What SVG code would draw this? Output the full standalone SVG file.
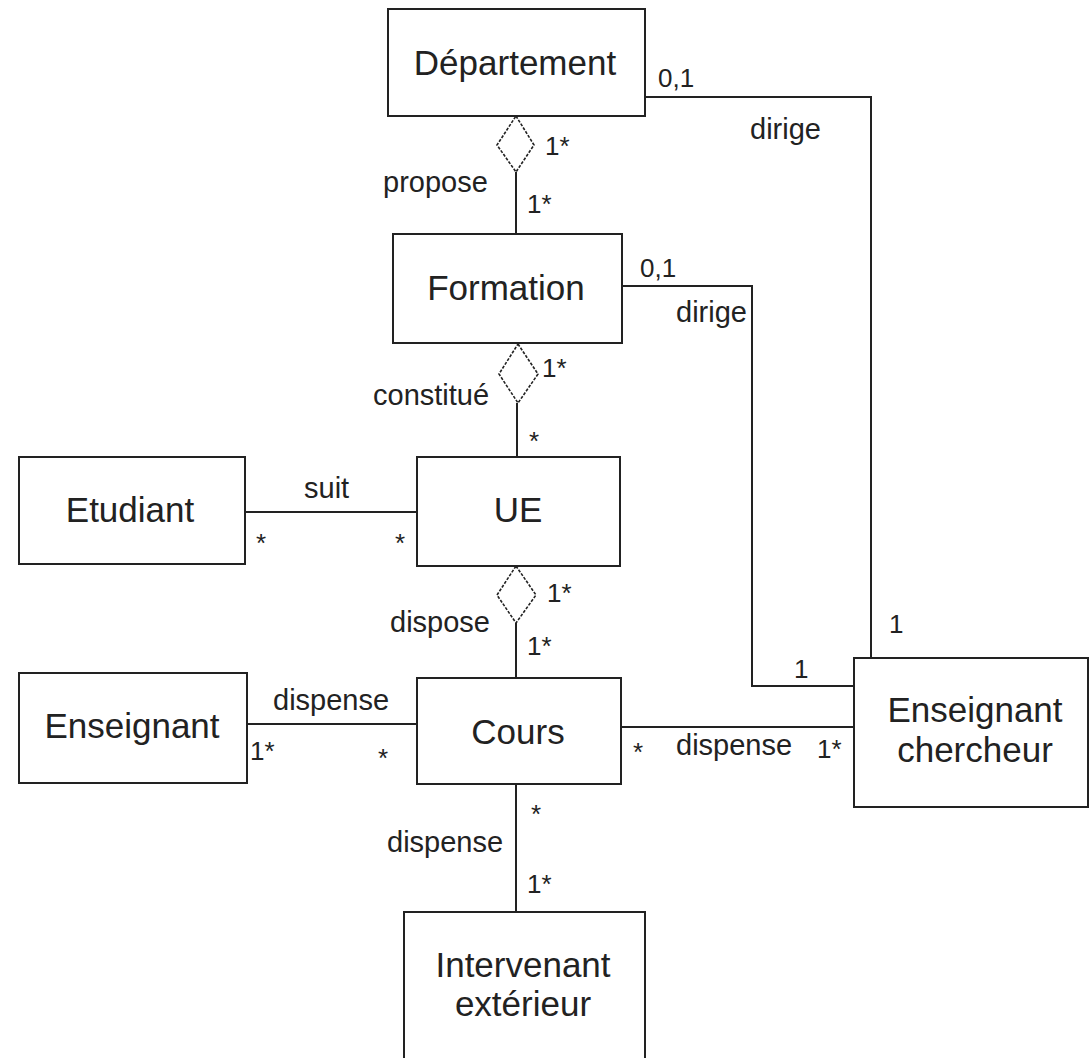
<svg xmlns="http://www.w3.org/2000/svg" width="1092" height="1058" viewBox="0 0 1092 1058">
<style>
.box{fill:#fff;stroke:#222;stroke-width:2}
.ln{fill:none;stroke:#222;stroke-width:2}
.dia{fill:#fff;stroke:#222;stroke-width:1.6;stroke-dasharray:3 1.5}
text{font-family:"Liberation Sans",Arial,sans-serif;fill:#222}
.nm{font-size:35px;text-anchor:middle}
.lb{font-size:29px}
.m{font-size:26px}
</style>
<rect width="1092" height="1058" fill="#fff"/>
<g id="connectors">
<path class="ln" d="M645,97 H871 V658"/>
<path class="ln" d="M622,286 H752 V686 H854"/>
<path class="ln" d="M516,172 V234"/>
<path class="dia" d="M516,116 L534,145 L516,172 L497,145 Z"/>
<path class="ln" d="M517,403 V457"/>
<path class="dia" d="M518,344 L538,374 L518,403 L499,374 Z"/>
<path class="ln" d="M516,623 V678"/>
<path class="dia" d="M516,566 L536,595 L516,623 L497,595 Z"/>
<path class="ln" d="M245,512 H417"/>
<path class="ln" d="M247,724 H417"/>
<path class="ln" d="M621,727 H854"/>
<path class="ln" d="M516,784 V912"/>
<text class="m" x="545" y="155">1*</text>
<text class="lb" x="383" y="192">propose</text>
<text class="m" x="527" y="213">1*</text>
<text class="m" x="658" y="87">0,1</text>
<text class="lb" x="750" y="139">dirige</text>
<text class="m" x="640" y="277">0,1</text>
<text class="lb" x="676" y="322">dirige</text>
<text class="m" x="542" y="377">1*</text>
<text class="lb" x="373" y="405">constitué</text>
<text class="m" x="529" y="450">*</text>
<text class="lb" x="304" y="498">suit</text>
<text class="m" x="256" y="552">*</text>
<text class="m" x="395" y="552">*</text>
<text class="m" x="547" y="602">1*</text>
<text class="lb" x="390" y="632">dispose</text>
<text class="m" x="527" y="655">1*</text>
<text class="lb" x="273" y="710">dispense</text>
<text class="m" x="250" y="760">1*</text>
<text class="m" x="378" y="767">*</text>
<text class="m" x="633" y="761">*</text>
<text class="lb" x="676" y="755">dispense</text>
<text class="m" x="817" y="758">1*</text>
<text class="m" x="794" y="678">1</text>
<text class="m" x="889" y="633">1</text>
<text class="m" x="531" y="823">*</text>
<text class="lb" x="387" y="852">dispense</text>
<text class="m" x="527" y="893">1*</text>
</g>
<g id="departement"><rect class="box" x="388" y="9" width="257" height="107"/><text class="nm" x="515" y="75">Département</text></g>
<g id="formation"><rect class="box" x="393" y="234" width="229" height="109"/><text class="nm" x="506" y="300">Formation</text></g>
<g id="etudiant"><rect class="box" x="19" y="457" width="226" height="107"/><text class="nm" x="130" y="522">Etudiant</text></g>
<g id="ue"><rect class="box" x="417" y="457" width="203" height="109"/><text class="nm" x="518" y="522">UE</text></g>
<g id="enseignant"><rect class="box" x="19" y="673" width="228" height="110"/><text class="nm" x="132" y="738">Enseignant</text></g>
<g id="cours"><rect class="box" x="417" y="678" width="204" height="106"/><text class="nm" x="518" y="744">Cours</text></g>
<g id="enseignant-chercheur"><rect class="box" x="854" y="658" width="234" height="149"/><text class="nm" x="975" y="722">Enseignant</text><text class="nm" x="975" y="762">chercheur</text></g>
<g id="intervenant"><rect class="box" x="404" y="912" width="241" height="160"/><text class="nm" x="523" y="977">Intervenant</text><text class="nm" x="523" y="1016">extérieur</text></g>
</svg>
